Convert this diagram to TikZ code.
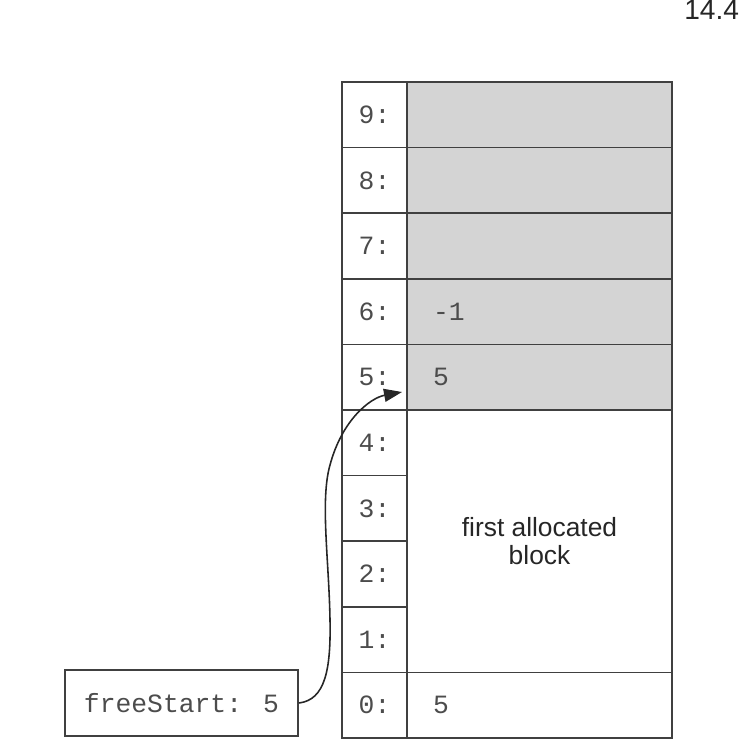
\documentclass[tikz,border=0pt]{standalone}
\usepackage{fontspec}
\setmainfont{Liberation Sans}
\newfontfamily\cellfont{Liberation Mono}
\usetikzlibrary{arrows.meta}

\tikzset{
  addr/.style={draw=black!75, line width=1pt, minimum width=1.3cm, minimum height=1.312cm,
    inner sep=0pt, font=\cellfont\fontsize{15}{18}\selectfont, text=black!70},
  val/.style={draw=black!75, line width=1pt, fill=black!17, text width=4.26cm,
    inner xsep=0.52cm, inner ysep=0pt, minimum height=1.312cm, align=left,
    font=\cellfont\fontsize{15}{18}\selectfont, text=black!70},
}

\begin{document}
\begin{tikzpicture}[x=0.02cm,y=-0.02cm]
\useasboundingbox (0,0) rectangle (746,756);

\node[anchor=base west, inner sep=0pt, font=\fontsize{16}{18}\selectfont, text=black!85] (title) at (684,20) {14.4};

% value column
\node[val] (v9) at (539.5,114.8) {};
\node[val] (v8) at (539.5,180.4) {};
\node[val] (v7) at (539.5,246.0) {};
\node[val] (v6) at (539.5,311.6) {-1};
\node[val] (v5) at (539.5,377.2) {5};
\node[draw=black!75, line width=1pt, minimum width=5.3cm, minimum height=5.248cm, align=center,
  font=\fontsize{15}{16}\selectfont, text=black!85] (block) at (539.5,541.2) {first allocated\\block};
\node[val, fill=white] (v0) at (539.5,705.2) {5};

% address column
\node[addr] (a9) at (374.5,114.8) {9:};
\node[addr] (a8) at (374.5,180.4) {8:};
\node[addr] (a7) at (374.5,246.0) {7:};
\node[addr] (a6) at (374.5,311.6) {6:};
\node[addr] (a5) at (374.5,377.2) {5:};
\node[addr] (a4) at (374.5,442.8) {4:};
\node[addr] (a3) at (374.5,508.4) {3:};
\node[addr] (a2) at (374.5,574.0) {2:};
\node[addr] (a1) at (374.5,639.6) {1:};
\node[addr] (a0) at (374.5,705.2) {0:};

\node[addr, minimum width=4.66cm, minimum height=1.32cm] (fs) at (181.5,703) {freeStart: 5};

\coordinate (tip) at (402,392);
\path[draw=black!85, line width=0.9pt, -{Triangle[length=0.36cm,width=0.26cm]}]
  (fs.east) .. controls (325,700) and (331,670) .. (330,620)
  .. controls (329,560) and (320,500) .. (330,465)
  .. controls (342,420) and (370,398) .. (tip);
\end{tikzpicture}
\end{document}
